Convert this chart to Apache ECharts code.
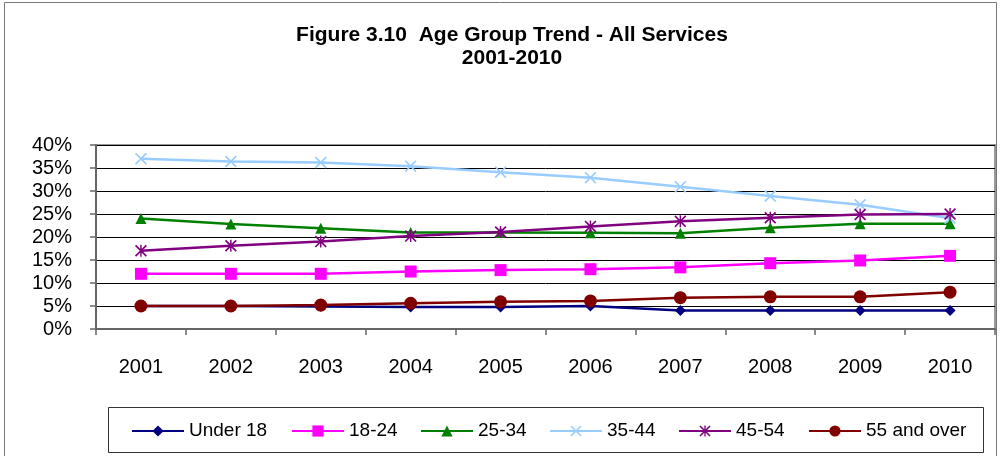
<!DOCTYPE html>
<html>
<head>
<meta charset="utf-8">
<style>
  html, body { margin: 0; padding: 0; background: #fff; }
  #chart { width: 1000px; height: 456px; }
</style>
<script src="https://cdn.jsdelivr.net/npm/echarts@6/dist/echarts.min.js"></script>
</head>
<body>
<div id="chart"></div>
<script>
// ---- data ----
var years = ['2001','2002','2003','2004','2005','2006','2007','2008','2009','2010'];
var under18   = [5.0, 5.0, 4.9, 4.8, 4.8, 5.0, 4.0, 4.0, 4.0, 4.0];
var age18_24  = [12.0, 12.0, 12.0, 12.5, 12.8, 13.0, 13.4, 14.3, 14.9, 15.9];
var age25_34  = [24.0, 22.8, 21.9, 21.0, 21.0, 20.9, 20.8, 22.0, 22.9, 22.9];
var age35_44  = [37.0, 36.4, 36.2, 35.4, 34.1, 32.9, 30.9, 28.9, 27.0, 24.1];
var age45_54  = [17.0, 18.1, 19.0, 20.2, 21.1, 22.3, 23.4, 24.2, 24.9, 25.0];
var age55plus = [5.0, 5.0, 5.2, 5.6, 5.9, 6.1, 6.8, 7.0, 7.0, 8.0];
var seriesNames = ['Under 18', '18-24', '25-34', '35-44', '45-54', '55 and over'];
var yTicks = { min: 0, max: 40, step: 5 };
var titleLines = ['Figure 3.10  Age Group Trend - All Services', '2001-2010'];

// ---- styles ----
var FONT = '"Liberation Sans", Arial, sans-serif';
var xPath = 'path://M0,1 L1,0 L5,4 L9,0 L10,1 L6,5 L10,9 L9,10 L5,6 L1,10 L0,9 L4,5 Z';
var starPath = 'path://M0,1 L1,0 L5,4 L9,0 L10,1 L6,5 L10,9 L9,10 L5,6 L1,10 L0,9 L4,5 Z M4.4,0 L5.6,0 L5.6,10 L4.4,10 Z';
var styles = [
  { color: '#000080', symbol: 'diamond',  size: 11 },
  { color: '#FF00FF', symbol: 'rect',     size: 12 },
  { color: '#008000', symbol: 'triangle', size: 11 },
  { color: '#99CCFF', symbol: xPath,      size: 12 },
  { color: '#800080', symbol: starPath,   size: 12 },
  { color: '#800000', symbol: 'circle',   size: 13 }
];
var dataSets = [under18, age18_24, age25_34, age35_44, age45_54, age55plus];
var legendLeft = [131, 291, 420, 549, 678, 808];

var series = seriesNames.map(function (name, i) {
  var s = styles[i];
  return {
    name: name,
    type: 'line',
    data: dataSets[i],
    symbol: s.symbol,
    symbolSize: s.size,
    showAllSymbol: true,
    lineStyle: { color: s.color, width: 2.5 },
    itemStyle: { color: s.color, borderWidth: 0 },
    emphasis: { disabled: true },
    animation: false,
    z: 3 + i
  };
});

var legends = seriesNames.map(function (name, i) {
  return {
    data: [name],
    left: legendLeft[i],
    top: 421,
    padding: 0,
    itemWidth: 52,
    itemHeight: 14,
    itemGap: 0,
    selectedMode: false,
    textStyle: { fontFamily: FONT, fontSize: 19, color: '#000', lineHeight: 20 }
  };
});

var chart = echarts.init(document.getElementById('chart'), null, { renderer: 'canvas' });
chart.setOption({
  backgroundColor: '#fff',
  animation: false,
  title: {
    text: titleLines.join('\n'),
    left: 507,
    textAlign: 'center',
    top: 19,
    textStyle: { fontFamily: FONT, fontSize: 21, fontWeight: 'bold', color: '#000', lineHeight: 23 }
  },
  legend: legends,
  grid: {
    left: 96, right: 5, top: 145, bottom: 127,
    show: true, borderColor: '#999', borderWidth: 2, backgroundColor: 'transparent'
  },
  xAxis: {
    type: 'category',
    data: years,
    boundaryGap: true,
    axisLine: { lineStyle: { color: '#666', width: 2 } },
    axisTick: { show: true, length: 6, lineStyle: { color: '#666', width: 1.5 } },
    axisLabel: { fontFamily: FONT, fontSize: 20, color: '#000', margin: 28 },
    splitLine: { show: false }
  },
  yAxis: {
    type: 'value',
    min: yTicks.min, max: yTicks.max, interval: yTicks.step,
    axisLine: { show: true, lineStyle: { color: '#666', width: 2 } },
    axisTick: { show: true, length: 6, lineStyle: { color: '#666', width: 1.5 } },
    axisLabel: { fontFamily: FONT, fontSize: 20, color: '#000', margin: 24, formatter: '{value}%' },
    splitLine: { show: true, lineStyle: { color: '#000', width: 1 } }
  },
  graphic: [
    { type: 'rect', shape: { x: 4.5, y: 2.5, width: 992, height: 470 },
      style: { fill: null, stroke: '#777', lineWidth: 1 }, silent: true, z: -1 },
    { type: 'rect', shape: { x: 108.5, y: 407.5, width: 875, height: 45 },
      style: { fill: null, stroke: '#333', lineWidth: 1 }, silent: true, z: 1 }
  ],
  series: series
});
</script>
</body>
</html>
